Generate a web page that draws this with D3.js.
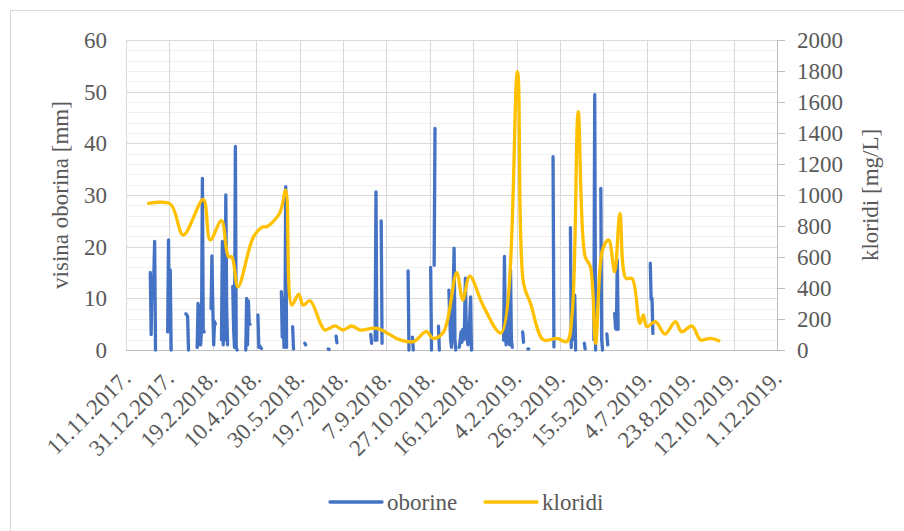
<!DOCTYPE html>
<html>
<head>
<meta charset="utf-8">
<script src="https://cdn.jsdelivr.net/npm/d3@7"></script>
<style>
  body { margin: 0; background: #fff; }
  svg text { font-family: "Liberation Serif", "Tinos", "Times New Roman", "DejaVu Serif", serif; fill: #595959; }
</style>
</head>
<body>
<svg id="chart" width="904" height="531"></svg>
<script>
// x axis labels (every 50 days)
const xTickLabels = ["11.11.2017.", "31.12.2017.", "19.2.2018.", "10.4.2018.", "30.5.2018.", "19.7.2018.",
  "7.9.2018.", "27.10.2018.", "16.12.2018.", "4.2.2019.", "26.3.2019.", "15.5.2019.", "4.7.2019.",
  "23.8.2019.", "12.10.2019.", "1.12.2019."];
const leftTicks = [0, 10, 20, 30, 40, 50, 60];
const rightTicks = [0, 200, 400, 600, 800, 1000, 1200, 1400, 1600, 1800, 2000];

// oborine: runs of consecutive daily values, start = days since 11.11.2017
const oborineStart = [28, 48, 69, 82, 98, 110, 123, 138, 152, 179, 192, 206, 233, 242, 282, 287, 294,
  325, 330, 351, 355, 360, 372, 384, 435, 457, 463, 492, 512, 516, 528, 539, 547, 554, 563, 604];
const oborineRuns = [
  [15, 3, 14, 10, 14, 21, 0],
  [3.5, 21.3, 4, 15.5, 0],
  [7, 6.8, 6.5, 0],
  [0.5, 9, 1, 8.5, 1, 4, 33.2, 3.9, 3.5],
  [8, 18.2, 8.5, 1, 5.5, 5],
  [2, 21, 1, 12, 2, 30, 8, 1],
  [12.3, 4, 0.5, 39.4, 0.5, 0],
  [0, 10, 1, 9.5, 5, 5],
  [6.8, 0.5, 0.8, 0.5, 0.3],
  [11.3, 2.5, 10, 0.5, 1, 31.6, 0.5],
  [4.5, 0.2],
  [1.3, 1],
  [0.2, 0.1],
  [2.7, 1.4],
  [3, 1.3],
  [1.9, 30.6, 1.9],
  [25, 1.3],
  [15.3, 0],
  [2.5, 0],
  [16, 0],
  [16.4, 42.9],
  [4.6, 0],
  [11.6, 6, 2, 0.5, 4, 12, 19.7, 2, 0],
  [0.5, 2, 3.5, 1.5, 4, 2, 5, 13.9, 4, 2, 1, 3, 6, 10.3, 0],
  [1.9, 18.1, 3, 1, 5, 2, 8, 1, 15.6, 2, 0.5],
  [3.5, 1.5],
  [0.2, 0.2],
  [37.4, 0.6],
  [23.7, 0.5],
  [2, 10.6, 0],
  [1.3, 0.2],
  [2, 49.4, 0],
  [31.3, 2, 0],
  [3.1, 1],
  [7.1, 4.2, 4, 17.4, 4],
  [16.8, 9.8, 10, 3.2]
];

// kloridi: sample day (days since 11.11.2017) and value in mg/L
const kloridiDays = [26, 51, 66, 89, 97, 110, 118, 122, 129, 147, 158, 162, 177, 184, 191, 199, 204, 212, 224,
  229, 241, 250, 260, 270, 289, 316, 331, 346, 354, 366, 381, 388, 396, 412, 432, 451, 458, 466, 481, 496,
  508, 514, 521, 529, 535, 541, 549, 556, 563, 569, 576, 583, 592, 596, 600, 610, 621, 633, 640, 652, 662,
  673, 683];
const kloridiValues = [946, 942, 742, 972, 710, 834, 602, 600, 408, 731, 795, 795, 882, 1032, 290, 361, 290,
  318, 172, 129, 155, 129, 155, 129, 140, 65, 54, 118, 75, 118, 499, 323, 477, 280, 110, 1796, 430, 301, 65,
  75, 54, 236, 1538, 602, 538, 43, 645, 710, 505, 882, 462, 462, 172, 226, 151, 183, 103, 183, 118, 155, 65,
  75, 60];

const parseDay = d3.utcParse("%d.%m.%Y.");
const start = parseDay(xTickLabels[0]);
const dayToDate = n => d3.utcDay.offset(start, n);

const svg = d3.select("#chart");
const plot = { left: 126, right: 777, top: 40, bottom: 350 };

const x = d3.scaleUtc()
  .domain([start, parseDay(xTickLabels[xTickLabels.length - 1])])
  .range([plot.left, plot.right]);
const yL = d3.scaleLinear().domain([0, 60]).range([plot.bottom, plot.top]);
const yR = d3.scaleLinear().domain([0, 2000]).range([plot.bottom, plot.top]);

// outer frame (runs off the picture on right and bottom)
svg.append("rect")
  .attr("x", 10.5).attr("y", 10.5).attr("width", 1000).attr("height", 1000)
  .attr("fill", "none").attr("stroke", "#d9d9d9");

// minor horizontal grid
svg.append("g").selectAll("line")
  .data(d3.range(0, 61, 2).filter(v => v % 10 !== 0))
  .join("line")
  .attr("x1", plot.left).attr("x2", plot.right)
  .attr("y1", d => Math.round(yL(d)) + 0.5).attr("y2", d => Math.round(yL(d)) + 0.5)
  .attr("stroke", "#f0f0f0");

// major horizontal grid
svg.append("g").selectAll("line")
  .data(leftTicks.slice(1))
  .join("line")
  .attr("x1", plot.left).attr("x2", plot.right)
  .attr("y1", d => Math.round(yL(d)) + 0.5).attr("y2", d => Math.round(yL(d)) + 0.5)
  .attr("stroke", "#d9d9d9");

// vertical grid
const xTickDates = xTickLabels.map(parseDay);
svg.append("g").selectAll("line")
  .data(xTickDates.slice(1))
  .join("line")
  .attr("x1", d => Math.round(x(d)) + 0.5).attr("x2", d => Math.round(x(d)) + 0.5)
  .attr("y1", plot.top).attr("y2", plot.bottom)
  .attr("stroke", "#d9d9d9");

// left axis line and bottom axis line
svg.append("line")
  .attr("x1", plot.left + 0.5).attr("x2", plot.left + 0.5)
  .attr("y1", plot.top).attr("y2", plot.bottom)
  .attr("stroke", "#d9d9d9");
svg.append("line")
  .attr("x1", plot.left).attr("x2", plot.right)
  .attr("y1", plot.bottom + 0.5).attr("y2", plot.bottom + 0.5)
  .attr("stroke", "#bfbfbf");

// right axis with outward ticks
svg.append("line")
  .attr("x1", plot.right + 0.5).attr("x2", plot.right + 0.5)
  .attr("y1", plot.top).attr("y2", plot.bottom + 1)
  .attr("stroke", "#bfbfbf");
svg.append("g").selectAll("line")
  .data(rightTicks)
  .join("line")
  .attr("x1", plot.right).attr("x2", plot.right + 8)
  .attr("y1", d => Math.round(yR(d)) + 0.5).attr("y2", d => Math.round(yR(d)) + 0.5)
  .attr("stroke", "#bfbfbf");

// tick labels
svg.append("g").selectAll("text")
  .data(leftTicks)
  .join("text")
  .attr("x", 107).attr("y", d => yL(d))
  .attr("dy", "0.35em")
  .attr("text-anchor", "end")
  .style("font-size", "23px")
  .text(d => d);

svg.append("g").selectAll("text")
  .data(rightTicks)
  .join("text")
  .attr("x", 797).attr("y", d => yR(d))
  .attr("dy", "0.35em")
  .style("font-size", "23px")
  .text(d => d);

svg.append("g").selectAll("text")
  .data(xTickLabels)
  .join("text")
  .attr("transform", d => `translate(${x(parseDay(d)) + 6},380) rotate(-45)`)
  .attr("text-anchor", "end")
  .style("font-size", "23px")
  .text(d => d);

// axis titles
svg.append("text")
  .attr("transform", `translate(68,${(plot.top + plot.bottom) / 2}) rotate(-90)`)
  .attr("text-anchor", "middle")
  .style("font-size", "23px")
  .text("visina oborina [mm]");
svg.append("text")
  .attr("transform", `translate(878,${(plot.top + plot.bottom) / 2}) rotate(-90)`)
  .attr("text-anchor", "middle")
  .style("font-size", "23px")
  .text("kloridi [mg/L]");

// oborine series, gaps between runs
const oborine = [];
oborineStart.forEach((s, i) => {
  oborineRuns[i].forEach((v, j) => oborine.push({ date: dayToDate(s + j), v: v }));
  oborine.push({ date: dayToDate(s + oborineRuns[i].length), v: null });
});

const lineL = d3.line()
  .defined(d => d.v != null)
  .x(d => x(d.date))
  .y(d => yL(d.v));

svg.append("path")
  .datum(oborine)
  .attr("d", lineL)
  .attr("fill", "none")
  .attr("stroke", "#4472c4")
  .attr("stroke-width", 3.3)
  .attr("stroke-linecap", "round")
  .attr("stroke-linejoin", "round");

// kloridi series, smoothed
const kloridi = kloridiDays.map((d, i) => ({ date: dayToDate(d), v: kloridiValues[i] }));
const lineR = d3.line()
  .curve(d3.curveCatmullRom.alpha(0.5))
  .x(d => x(d.date))
  .y(d => yR(d.v));

svg.append("path")
  .datum(kloridi)
  .attr("d", lineR)
  .attr("fill", "none")
  .attr("stroke", "#ffc000")
  .attr("stroke-width", 3.3)
  .attr("stroke-linecap", "round")
  .attr("stroke-linejoin", "round");

// legend
const legend = [
  { name: "oborine", color: "#4472c4", x: 330 },
  { name: "kloridi", color: "#ffc000", x: 485 }
];
const lg = svg.append("g").selectAll("g")
  .data(legend)
  .join("g")
  .attr("transform", d => `translate(${d.x},502)`);
lg.append("line")
  .attr("x1", 0).attr("x2", 52)
  .attr("stroke", d => d.color)
  .attr("stroke-width", 3.3)
  .attr("stroke-linecap", "round");
lg.append("text")
  .attr("x", 57)
  .attr("dy", "0.35em")
  .style("font-size", "23px")
  .text(d => d.name);
</script>
</body>
</html>
